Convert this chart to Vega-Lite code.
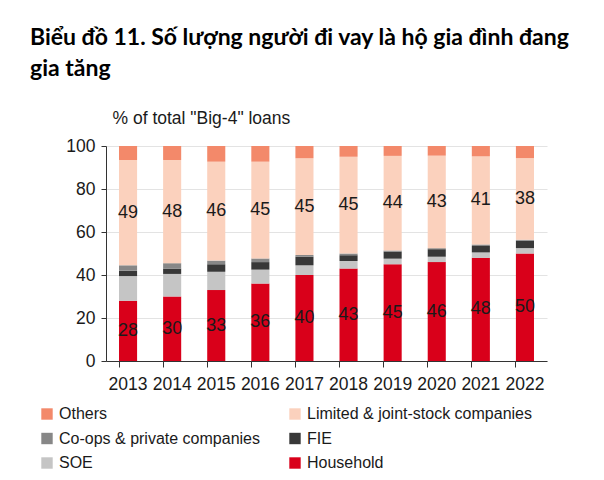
{
  "$schema": "https://vega.github.io/schema/vega-lite/v6.json",
  "width": 441,
  "height": 215,
  "autosize": "none",
  "padding": {"left": 106, "top": 146, "right": 57, "bottom": 119},
  "background": "white",
  "title": {
    "text": ["Biểu đồ 11. Số lượng người đi vay là hộ gia đình đang", "gia tăng"],
    "anchor": "start",
    "frame": "group",
    "dx": -76,
    "dy": 12,
    "font": "Lato",
    "fontSize": 23,
    "fontWeight": "bold",
    "lineHeight": 31,
    "color": "#000000",
    "offset": 40
  },
  "config": {
    "view": {"stroke": null},
    "font": "Liberation Sans"
  },
  "data": {
    "values": [
      {"year": "2013", "cat": "Household", "value": 28},
      {"year": "2013", "cat": "SOE", "value": 11.5},
      {"year": "2013", "cat": "FIE", "value": 2.5},
      {"year": "2013", "cat": "Co-ops & private companies", "value": 2.5},
      {"year": "2013", "cat": "Limited & joint-stock companies", "value": 49},
      {"year": "2013", "cat": "Others", "value": 6.5},
      {"year": "2014", "cat": "Household", "value": 30},
      {"year": "2014", "cat": "SOE", "value": 10.5},
      {"year": "2014", "cat": "FIE", "value": 2.5},
      {"year": "2014", "cat": "Co-ops & private companies", "value": 2.5},
      {"year": "2014", "cat": "Limited & joint-stock companies", "value": 48},
      {"year": "2014", "cat": "Others", "value": 6.5},
      {"year": "2015", "cat": "Household", "value": 33},
      {"year": "2015", "cat": "SOE", "value": 8.5},
      {"year": "2015", "cat": "FIE", "value": 3.5},
      {"year": "2015", "cat": "Co-ops & private companies", "value": 1.7},
      {"year": "2015", "cat": "Limited & joint-stock companies", "value": 46},
      {"year": "2015", "cat": "Others", "value": 7.3},
      {"year": "2016", "cat": "Household", "value": 36},
      {"year": "2016", "cat": "SOE", "value": 6.5},
      {"year": "2016", "cat": "FIE", "value": 3.5},
      {"year": "2016", "cat": "Co-ops & private companies", "value": 1.7},
      {"year": "2016", "cat": "Limited & joint-stock companies", "value": 45},
      {"year": "2016", "cat": "Others", "value": 7.3},
      {"year": "2017", "cat": "Household", "value": 40},
      {"year": "2017", "cat": "SOE", "value": 4.5},
      {"year": "2017", "cat": "FIE", "value": 4},
      {"year": "2017", "cat": "Co-ops & private companies", "value": 0.8},
      {"year": "2017", "cat": "Limited & joint-stock companies", "value": 45},
      {"year": "2017", "cat": "Others", "value": 5.7},
      {"year": "2018", "cat": "Household", "value": 43},
      {"year": "2018", "cat": "SOE", "value": 3.5},
      {"year": "2018", "cat": "FIE", "value": 2.7},
      {"year": "2018", "cat": "Co-ops & private companies", "value": 0.8},
      {"year": "2018", "cat": "Limited & joint-stock companies", "value": 45},
      {"year": "2018", "cat": "Others", "value": 5},
      {"year": "2019", "cat": "Household", "value": 45},
      {"year": "2019", "cat": "SOE", "value": 2.6},
      {"year": "2019", "cat": "FIE", "value": 3.3},
      {"year": "2019", "cat": "Co-ops & private companies", "value": 0.5},
      {"year": "2019", "cat": "Limited & joint-stock companies", "value": 44},
      {"year": "2019", "cat": "Others", "value": 4.6},
      {"year": "2020", "cat": "Household", "value": 46},
      {"year": "2020", "cat": "SOE", "value": 2.5},
      {"year": "2020", "cat": "FIE", "value": 3.5},
      {"year": "2020", "cat": "Co-ops & private companies", "value": 0.5},
      {"year": "2020", "cat": "Limited & joint-stock companies", "value": 43},
      {"year": "2020", "cat": "Others", "value": 4.5},
      {"year": "2021", "cat": "Household", "value": 48},
      {"year": "2021", "cat": "SOE", "value": 2.5},
      {"year": "2021", "cat": "FIE", "value": 3},
      {"year": "2021", "cat": "Co-ops & private companies", "value": 0.7},
      {"year": "2021", "cat": "Limited & joint-stock companies", "value": 41},
      {"year": "2021", "cat": "Others", "value": 4.8},
      {"year": "2022", "cat": "Household", "value": 50},
      {"year": "2022", "cat": "SOE", "value": 2.5},
      {"year": "2022", "cat": "FIE", "value": 3.5},
      {"year": "2022", "cat": "Co-ops & private companies", "value": 0.4},
      {"year": "2022", "cat": "Limited & joint-stock companies", "value": 38},
      {"year": "2022", "cat": "Others", "value": 5.6}
    ]
  },
  "transform": [
    {"calculate": "indexof(['Household','SOE','FIE','Co-ops & private companies','Limited & joint-stock companies','Others'], datum.cat)", "as": "ord"},
    {"stack": "value", "groupby": ["year"], "sort": [{"field": "ord", "order": "ascending"}], "as": ["y0", "y1"]},
    {"calculate": "(datum.y0 + datum.y1) / 2", "as": "mid"}
  ],
  "encoding": {
    "x": {
      "field": "year",
      "type": "nominal",
      "title": null,
      "scale": {"paddingInner": 0.59, "paddingOuter": 0.295},
      "axis": {
        "labelAngle": 0,
        "labelFontSize": 17.5,
        "labelColor": "#1a1a1a",
        "labelPadding": 8,
        "domainColor": "#333333",
        "tickColor": "#333333",
        "tickSize": 6,
        "bandPosition": 0,
        "grid": false
      }
    }
  },
  "layer": [
    {
      "mark": {"type": "bar", "stroke": null},
      "encoding": {
        "y": {
          "field": "y1",
          "type": "quantitative",
          "scale": {"domain": [0, 100], "nice": false},
          "axis": {
            "values": [0, 20, 40, 60, 80, 100],
            "labelFontSize": 17.5,
            "labelColor": "#1a1a1a",
            "labelPadding": 6,
            "domainColor": "#333333",
            "tickColor": "#333333",
            "tickSize": 5,
            "gridColor": "#e3e3e3",
            "title": "% of total \"Big-4\" loans",
            "titleAngle": 0,
            "titleX": 6,
            "titleY": -28,
            "titleAlign": "left",
            "titleBaseline": "middle",
            "titleFontSize": 17.5,
            "titleFontWeight": "normal",
            "titleColor": "#1a1a1a"
          }
        },
        "y2": {"field": "y0"},
        "color": {
          "field": "cat",
          "type": "nominal",
          "scale": {
            "domain": ["Others", "Limited & joint-stock companies", "Co-ops & private companies", "FIE", "SOE", "Household"],
            "range": ["#f3896a", "#fbd1bd", "#878787", "#383838", "#c5c5c5", "#d9001a"]
          },
          "legend": {
            "title": null,
            "orient": "none",
            "direction": "horizontal",
            "legendX": -67,
            "legendY": 260,
            "columns": 2,
            "columnPadding": 27,
            "rowPadding": 8.5,
            "symbolType": "square",
            "symbolSize": 130,
            "symbolStrokeWidth": 0,
            "labelFontSize": 16,
            "labelColor": "#1a1a1a",
            "labelOffset": 4,
            "labelLimit": 400
          }
        }
      }
    },
    {
      "transform": [{"filter": "datum.cat == 'Household' || datum.cat == 'Limited & joint-stock companies'"}],
      "mark": {"type": "text", "fontSize": 18, "color": "#1a1a1a", "baseline": "middle"},
      "encoding": {
        "y": {"field": "mid", "type": "quantitative"},
        "text": {"field": "value", "type": "quantitative", "format": ".0f"}
      }
    }
  ]
}
